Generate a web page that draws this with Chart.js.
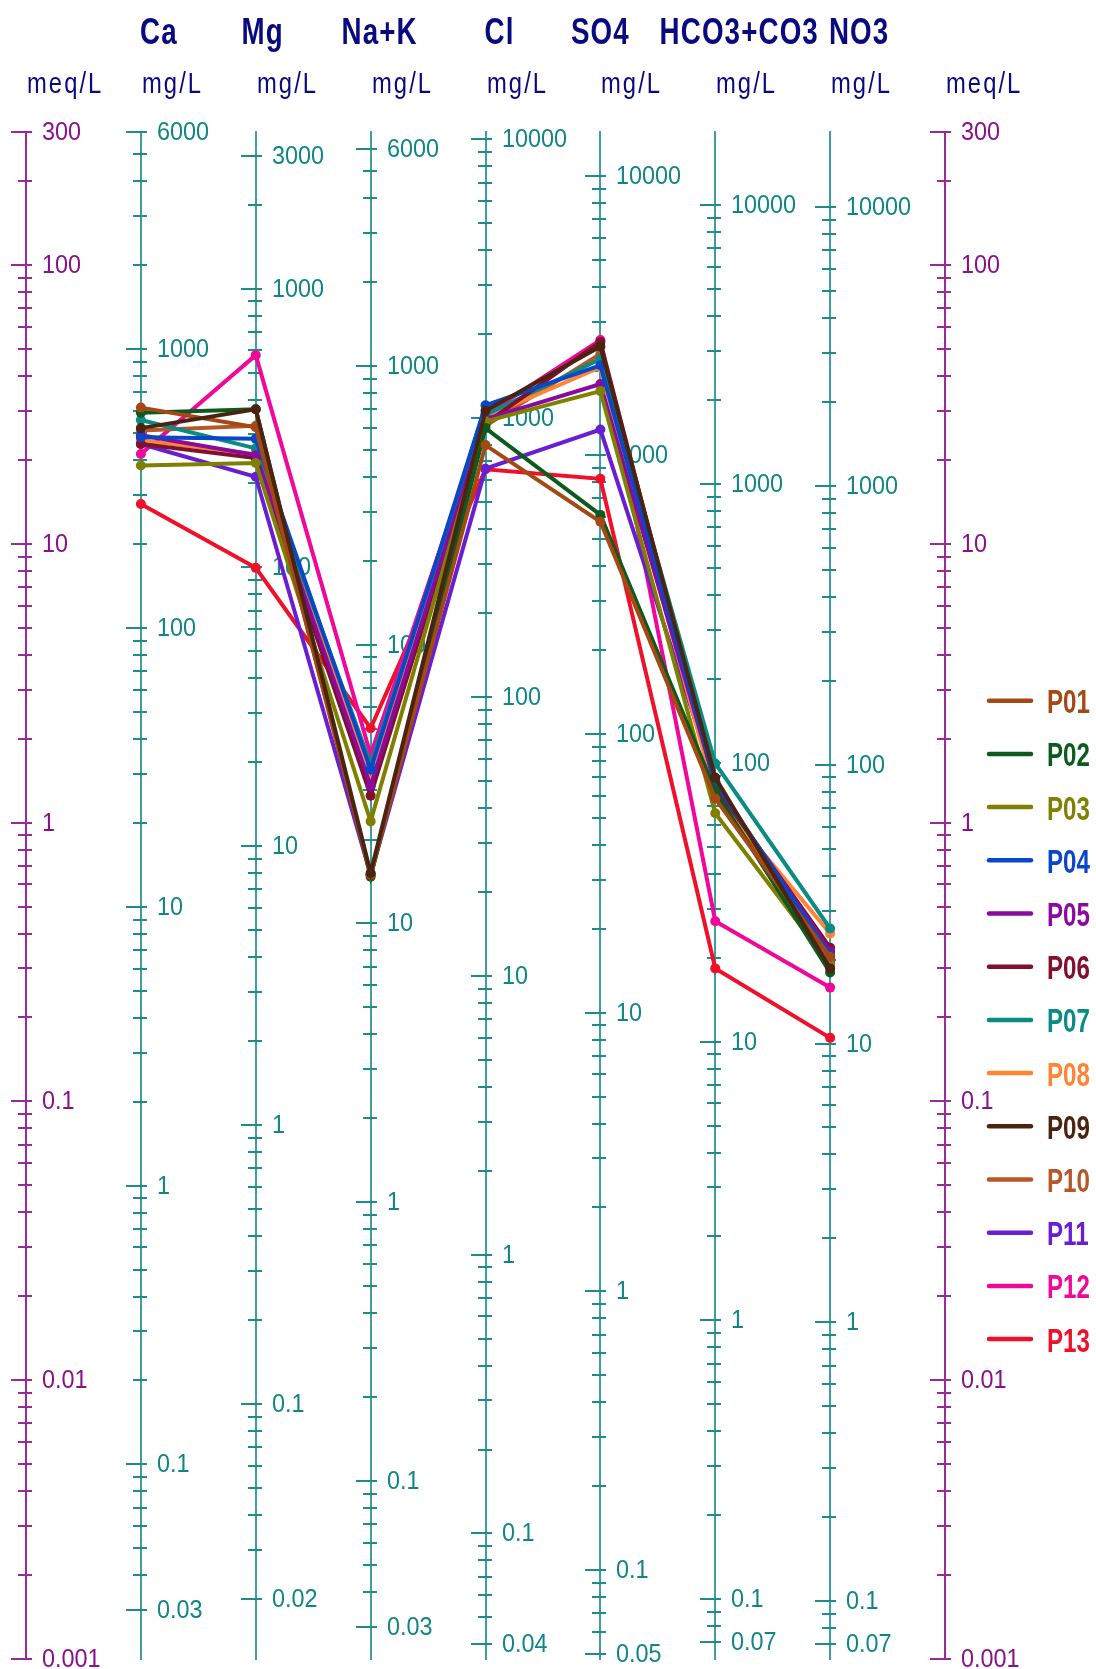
<!DOCTYPE html>
<html>
<head>
<meta charset="utf-8">
<title>Schoeller diagram</title>
<script src="https://cdn.jsdelivr.net/npm/chart.js@4.4.1/dist/chart.umd.min.js"></script>
<style>
  html, body { margin: 0; padding: 0; background: #ffffff; overflow: hidden; }
  canvas { display: block; }
</style>
</head>
<body>
<canvas id="schoeller" width="1096" height="1669"></canvas>
<script>
// Ions along the horizontal axis, in drawing order
const ions = ['Ca', 'Mg', 'Na+K', 'Cl', 'SO4', 'HCO3+CO3', 'NO3'];
// Equivalent weights (mg per meq) used to build each ion's mg/L axis
const equivalentWeights = [20.04, 12.15, 23.0, 35.45, 48.03, 61.02, 62.0];
// Shared meq/L range of the diagram
const meqMin = 0.001;
const meqMax = 300;

// Sample names and colours
const sampleNames = ['P01', 'P02', 'P03', 'P04', 'P05', 'P06', 'P07', 'P08', 'P09', 'P10', 'P11', 'P12', 'P13'];
const sampleColors = ['#a44814', '#0c5a1e', '#808000', '#0a46c8', '#8a0aa0', '#80102c', '#0a8c84',
                      '#ff8433', '#4a2410', '#b4582a', '#6a1ed2', '#f0089a', '#f0102a'];

// Concentrations in meq/L: Ca, Mg, Na+K, Cl, SO4, HCO3+CO3, NO3
const P01 = [30.8, 26.2, 0.65, 22.6, 12.0, 1.22, 0.330];
const P02 = [29.5, 30.4, 0.64, 26.0, 12.7, 1.30, 0.290];
const P03 = [19.1, 19.5, 1.01, 27.5, 35.3, 1.08, 0.310];
const P04 = [24.1, 23.8, 1.55, 31.4, 43.7, 1.40, 0.335];
const P05 = [24.5, 20.8, 1.35, 28.0, 37.4, 1.38, 0.345];
const P06 = [22.8, 20.3, 1.25, 27.0, 53.0, 1.35, 0.356];
const P07 = [27.8, 22.0, 1.62, 29.0, 46.0, 1.63, 0.417];
const P08 = [23.5, 21.0, 1.45, 28.5, 43.0, 1.25, 0.400];
const P09 = [26.0, 30.4, 0.66, 30.0, 51.0, 1.45, 0.300];
const P10 = [25.5, 26.5, 0.65, 26.5, 48.0, 1.32, 0.325];
const P11 = [22.8, 17.4, 0.65, 18.6, 25.7, 1.40, 0.320];
const P12 = [21.0, 47.5, 1.75, 29.0, 53.8, 0.443, 0.256];
const P13 = [13.9, 8.2, 2.18, 18.5, 17.1, 0.300, 0.169];
const sampleValues = [P01, P02, P03, P04, P05, P06, P07, P08, P09, P10, P11, P12, P13];

// Styling
const FONT = '"Liberation Sans", Arial, sans-serif';
const TEAL_AXIS = '#3f9f9f';
const TEAL_TICK = '#1f8c8c';
const TEAL_TEXT = '#118585';
const PURPLE_AXIS = '#9a2a9a';
const PURPLE_TEXT = '#8a1088';
const NAVY = '#0a0a80';
// Horizontal shift of each ion title centre from its axis
const titleShift = [18, 7, 9, 14, 0, 24, 29];

// Axis definitions: meq/L on both sides, one mg/L axis per ion
const axisDefs = [{ id: 'meqL', pos: 0, unit: 'meq/L', tick: PURPLE_AXIS, text: PURPLE_TEXT }];
ions.forEach((ion, i) => axisDefs.push({ id: 'ion' + i, pos: i + 1, unit: 'mg/L', tick: TEAL_TICK, text: TEAL_TEXT }));
axisDefs.push({ id: 'meqR', pos: ions.length + 1, unit: 'meq/L', tick: PURPLE_AXIS, text: PURPLE_TEXT });

function yAxis(pos, min, max, color) {
  return {
    axis: 'y',
    type: 'logarithmic',
    position: { x: pos },
    min: min,
    max: max,
    display: true,
    ticks: { display: false },
    grid: { display: false, drawTicks: false },
    border: { display: true, color: color, width: 2 }
  };
}

const scales = {
  x: { axis: 'x', type: 'linear', min: 0, max: ions.length + 1, display: false }
};
scales.meqL = yAxis(0, meqMin, meqMax, PURPLE_AXIS);
ions.forEach((ion, i) => {
  scales['ion' + i] = yAxis(i + 1, meqMin * equivalentWeights[i], meqMax * equivalentWeights[i], TEAL_AXIS);
});
scales.meqR = yAxis(ions.length + 1, meqMin, meqMax, PURPLE_AXIS);

// 1..9 x 10^n values inside [min, max]
function logTicks(min, max) {
  const out = [];
  const e0 = Math.floor(Math.log10(min));
  const e1 = Math.ceil(Math.log10(max));
  for (let e = e0; e <= e1; e++) {
    for (let m = 1; m <= 9; m++) {
      const v = Number((m * Math.pow(10, e)).toPrecision(10));
      if (v >= min * (1 - 1e-9) && v <= max * (1 + 1e-9)) out.push({ v: v, m: m });
    }
  }
  return out;
}

function drawText(ctx, text, x, y, font, color, sx, align, spacing) {
  ctx.save();
  ctx.font = font;
  ctx.fillStyle = color;
  ctx.textBaseline = 'alphabetic';
  ctx.textAlign = align;
  if ('letterSpacing' in ctx) ctx.letterSpacing = (spacing || 0) + 'px';
  ctx.translate(x, y);
  ctx.scale(sx, 1);
  ctx.fillText(text, 0, 0);
  ctx.restore();
}

const schoellerPlugin = {
  id: 'schoellerDecor',
  beforeDatasetsDraw(chart) {
    const ctx = chart.ctx;
    const xs = chart.scales.x;
    axisDefs.forEach(def => {
      const sc = chart.scales[def.id];
      const x = Math.round(xs.getPixelForValue(def.pos));
      const ticks = logTicks(sc.min, sc.max);
      ctx.save();
      ctx.strokeStyle = def.tick;
      ctx.lineWidth = 2;
      ticks.forEach((t, i) => {
        const y = Math.round(sc.getPixelForValue(t.v));
        const major = t.m === 1 || i === 0 || i === ticks.length - 1;
        ctx.beginPath();
        ctx.moveTo(x - (major ? 15 : 8), y);
        ctx.lineTo(x + 6, y);
        ctx.stroke();
        if (major) {
          drawText(ctx, String(t.v), x + 16, y + 7.5, '26px ' + FONT, def.text, 0.9, 'left', 0);
        }
      });
      ctx.restore();
    });
  },
  afterDraw(chart) {
    const ctx = chart.ctx;
    const xs = chart.scales.x;
    // Ion titles
    ions.forEach((ion, i) => {
      const x = xs.getPixelForValue(i + 1) + titleShift[i];
      drawText(ctx, ion, x, 44, 'bold 37px ' + FONT, NAVY, 0.75, 'center', 1.5);
    });
    // Unit captions, left-aligned on each axis
    axisDefs.forEach(def => {
      const x = Math.round(xs.getPixelForValue(def.pos)) + 1;
      drawText(ctx, def.unit, x, 93, '29px ' + FONT, NAVY, 0.82, 'left', 2.5);
    });
    // Legend
    const x0 = chart.chartArea.right + 44;
    chart.data.datasets.forEach((ds, i) => {
      const y = 700.7 + i * 53.2;
      ctx.save();
      ctx.strokeStyle = ds.borderColor;
      ctx.lineWidth = 4.5;
      ctx.lineCap = 'round';
      ctx.beginPath();
      ctx.moveTo(x0, y);
      ctx.lineTo(x0 + 42, y);
      ctx.stroke();
      ctx.restore();
      drawText(ctx, ds.label, x0 + 58, y + 12.5, 'bold 33px ' + FONT, ds.borderColor, 0.73, 'left', 0);
    });
  }
};

const datasets = sampleNames.map((name, s) => ({
  label: name,
  data: sampleValues[s].map((v, i) => ({ x: i + 1, y: v })),
  borderColor: sampleColors[s],
  backgroundColor: sampleColors[s],
  pointBackgroundColor: sampleColors[s],
  pointBorderColor: sampleColors[s],
  pointBorderWidth: 0,
  pointRadius: 5,
  borderWidth: 4,
  tension: 0,
  order: name === 'P09' ? -1 : 0,
  xAxisID: 'x',
  yAxisID: 'meqL'
}));

new Chart(document.getElementById('schoeller'), {
  type: 'line',
  data: { datasets: datasets },
  options: {
    responsive: false,
    animation: false,
    devicePixelRatio: 1,
    layout: { padding: { left: 26, right: 151, top: 132, bottom: 10 } },
    plugins: {
      legend: { display: false },
      tooltip: { enabled: false },
      title: { display: false }
    },
    scales: scales
  },
  plugins: [schoellerPlugin]
});
</script>
</body>
</html>
